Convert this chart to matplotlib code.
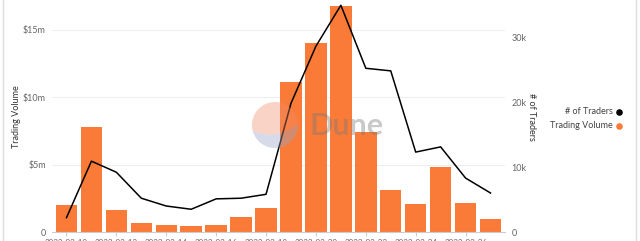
import matplotlib
matplotlib.use("Agg")
import matplotlib.pyplot as plt
from matplotlib.patches import Polygon
import numpy as np

plt.rcParams['font.family'] = ['Lato', 'DejaVu Sans']

# Daily data
dates = ["2022-02-10", "2022-02-11", "2022-02-12", "2022-02-13", "2022-02-14",
         "2022-02-15", "2022-02-16", "2022-02-17", "2022-02-18", "2022-02-19",
         "2022-02-20", "2022-02-21", "2022-02-22", "2022-02-23", "2022-02-24",
         "2022-02-25", "2022-02-26", "2022-02-27"]
trading_volume = [2.0e6, 7.8e6, 1.6e6, 0.67e6, 0.52e6, 0.45e6, 0.5e6, 1.1e6, 1.8e6,
                  11.1e6, 14.0e6, 16.8e6, 7.4e6, 3.1e6, 2.1e6, 4.8e6, 2.15e6, 0.97e6]
traders = [2200, 10900, 9200, 5200, 4000, 3500, 5100, 5200, 5800,
           19800, 28600, 34900, 25200, 24800, 12300, 13100, 8300, 6000]

vol_ticks = [0, 5e6, 10e6, 15e6]
vol_tick_labels = ["0", "$5m", "$10m", "$15m"]
trader_ticks = [0, 10000, 20000, 30000]
trader_tick_labels = ["0", "10k", "20k", "30k"]

BAR_COLOR = "#FA7B37"
TEXT_COLOR = "#666666"
W, H = 640, 241

fig = plt.figure(figsize=(W / 100, H / 100), dpi=100)
fig.patch.set_facecolor("white")

ax_l, ax_r, ax_b, ax_t = 52, 505, 232, 2
ax = fig.add_axes([ax_l / W, (H - ax_b) / H, (ax_r - ax_l) / W, (ax_b - ax_t) / H])
ax2 = ax.twinx()

x = np.arange(len(dates))
ax.bar(x, trading_volume, width=0.86, color=BAR_COLOR, zorder=2)
ax2.plot(x, traders, color="black", linewidth=1.1, zorder=3)

ax.set_xlim(-0.58, len(dates) - 1 + 0.58)
ax.set_ylim(0, 17.07e6)
ax2.set_ylim(0, 35400)

ax.set_yticks(vol_ticks)
ax.set_yticklabels(vol_tick_labels)
ax2.set_yticks(trader_ticks)
ax2.set_yticklabels(trader_tick_labels)
tick_idx = x[::2]
ax.set_xticks(tick_idx)
ax.set_xticklabels([dates[i] for i in tick_idx])

ax.grid(axis="y", color="#eeeeee", linewidth=0.8, zorder=0)
ax.set_axisbelow(True)
for a in (ax, ax2):
    for s in a.spines.values():
        s.set_visible(False)
ax.spines["bottom"].set_visible(True)
ax.spines["bottom"].set_color("#cccccc")
ax.spines["bottom"].set_linewidth(0.8)

ax.tick_params(axis="y", length=0, pad=4.5, labelsize=6.5, labelcolor=TEXT_COLOR)
ax2.tick_params(axis="y", length=0, pad=4.5, labelsize=6.5, labelcolor=TEXT_COLOR)
ax.tick_params(axis="x", length=3, color="#cccccc", pad=2, labelsize=5.8, labelcolor=TEXT_COLOR)

ax.set_ylabel("Trading Volume", fontsize=6.5, color="#333333")
ax.yaxis.set_label_coords(-0.068, 0.5)
ax2.set_ylabel("# of Traders", fontsize=6.5, color="#333333", rotation=-90)
ax2.yaxis.set_label_coords(1.068, 0.5)

# Overlay in pixel coordinates: watermark, legend, card border
ov = fig.add_axes([0, 0, 1, 1], facecolor="none")
ov.set_xlim(0, W)
ov.set_ylim(H, 0)
ov.axis("off")

# Logo: circle split by a curved line rising to the right
cx, cy, r = 275, 125, 23
a0, a1 = np.deg2rad(200), np.deg2rad(355)   # where the dividing curve meets the rim
p0 = np.array([cx + r * np.cos(np.pi - 0.25), cy + r * np.sin(np.pi - 0.25)])
p1 = np.array([cx + r * np.cos(-0.05), cy + r * np.sin(-0.05)])
ctrl = np.array([cx + 2, cy + 16])
t = np.linspace(0, 1, 40)[:, None]
curve = (1 - t) ** 2 * p0 + 2 * (1 - t) * t * ctrl + t ** 2 * p1
th_low = np.linspace(np.pi - 0.25, -0.05, 80)          # lower rim, left to right
th_up = np.linspace(-0.05, -np.pi - 0.25, 80)          # upper rim, right to left
rim_low = np.column_stack([cx + r * np.cos(th_low), cy + r * np.sin(th_low)])
rim_up = np.column_stack([cx + r * np.cos(th_up), cy + r * np.sin(th_up)])
upper = np.vstack([curve, rim_up])
lower = np.vstack([curve, rim_low[::-1]])
ov.add_patch(Polygon(upper, closed=True, facecolor="#F08C6A", edgecolor="none", alpha=0.38, zorder=5))
ov.add_patch(Polygon(lower, closed=True, facecolor="#9AA4C8", edgecolor="none", alpha=0.4, zorder=5))
ov.text(309, 126, "Dune", fontsize=22, fontweight="bold", color="#7a7a7a", alpha=0.4,
        ha="left", va="center", zorder=6)

ov.text(613, 112, "# of Traders", fontsize=6.5, color="#444444", ha="right", va="center")
ov.text(613, 126, "Trading Volume", fontsize=6.5, color="#444444", ha="right", va="center")
ov.scatter([619], [112], s=14, color="black", zorder=7)
ov.scatter([619], [126], s=14, color=BAR_COLOR, zorder=7)

ov.plot([3, 3], [0, H], color="#dddddd", linewidth=1)
ov.plot([636, 636], [0, H], color="#dddddd", linewidth=1)

fig.savefig("out.png", dpi=100)
